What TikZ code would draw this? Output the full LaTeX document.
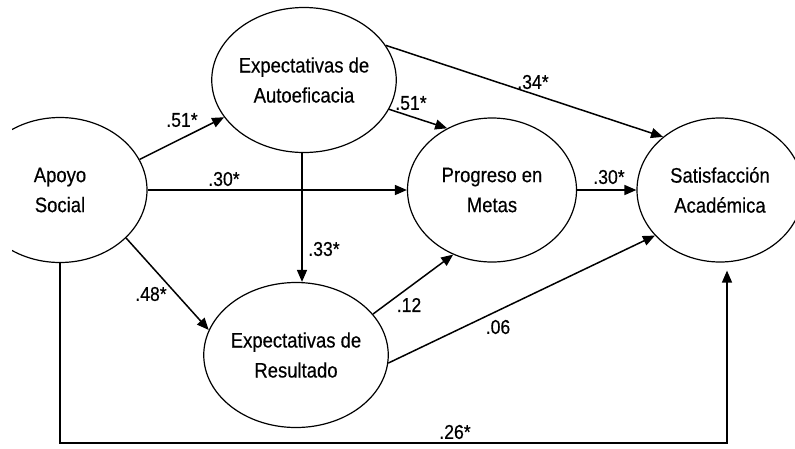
\documentclass[tikz,border=0pt]{standalone}
\usepackage{fontspec}
\setmainfont{Liberation Sans}[FakeStretch=0.88,FakeBold=0.4]
\usetikzlibrary{arrows.meta,calc,shapes.geometric}
\begin{document}
\begin{tikzpicture}[x=1pt,y=-1pt,
  var/.style={ellipse,draw,line width=1.2pt,inner sep=0pt,align=center,
    font=\fontsize{21}{30}\selectfont},
  arr/.style={line width=1.5pt,-{Triangle[length=12pt,width=10pt]}},
  coef/.style={inner sep=0pt,font=\fontsize{20}{24}\selectfont}]
\useasboundingbox (0,0) rectangle (795,448);
\begin{scope}
\clip (12,0) rectangle (795,448);
\node[var,minimum width=174pt,minimum height=145pt] (apoyo) at (60,190) {Apoyo\\Social};
\node[var,minimum width=166pt,minimum height=144pt] (sat) at (720,190) {Satisfacción\\Académica};
\end{scope}
\node[var,minimum width=168pt,minimum height=145pt] (auto) at (304,80) {Expectativas de\\Autoeficacia};
\node[var,minimum width=169pt,minimum height=144pt] (prog) at (492,190) {Progreso en\\Metas};
\node[var,minimum width=166pt,minimum height=145pt] (res) at (296,355) {Expectativas de\\Resultado};
% connectors
\draw[arr] (apoyo.21) -- (auto.205);
\draw[arr] (apoyo.east) -- (prog.west);
\draw[arr] (apoyo.-36) -- (res.164);
\draw[arr] ([xshift=-2pt]auto.south) -- ([xshift=6pt]res.north);
\draw[arr] (auto.-19) -- (prog.126);
\draw[arr] (auto.23) -- (sat.137);
\draw[arr] (prog.east) -- (sat.west);
\draw[arr] (res.28) -- (prog.239);
\draw[arr] (res.-5) -- (sat.215);
\coordinate (bl) at (60,443);
\coordinate (br) at (727,443);
\draw[arr,shorten >=8pt] (apoyo.south) -- (bl) -- (br) -- ([xshift=7pt]sat.south);
% coefficients
\node[coef] (c1) at (182,120) {.51*};
\node[coef] (c2) at (224,179) {.30*};
\node[coef] (c3) at (151,294) {.48*};
\node[coef] (c4) at (324,249) {.33*};
\node[coef] (c5) at (411,103) {.51*};
\node[coef] (c6) at (533,82) {.34*};
\node[coef] (c7) at (609,177) {.30*};
\node[coef] (c8) at (409,305) {.12};
\node[coef] (c9) at (498,327) {.06};
\node[coef] (c10) at (455,432) {.26*};
\end{tikzpicture}
\end{document}
